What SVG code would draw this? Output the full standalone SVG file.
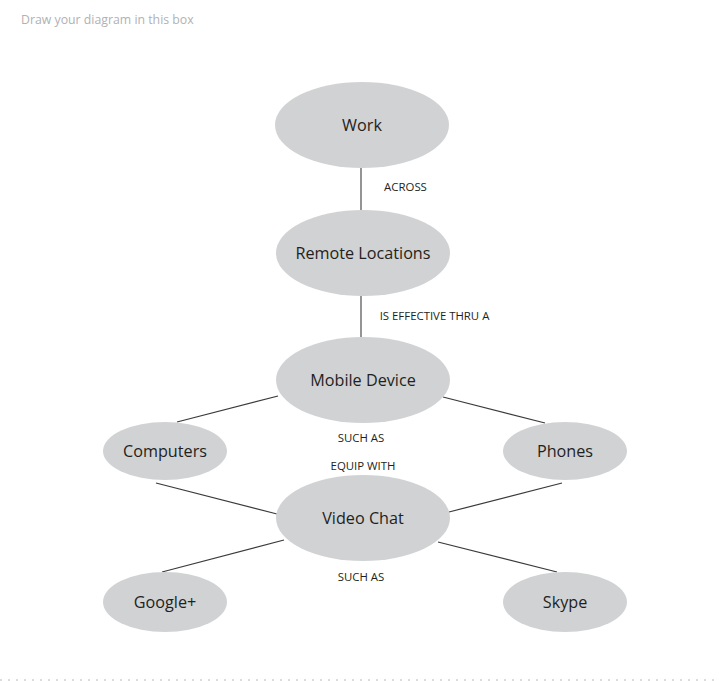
<svg xmlns="http://www.w3.org/2000/svg" width="719" height="681" viewBox="0 0 719 681">
<style>
.node ellipse{fill:#d1d2d4;stroke:none}
.node text{font-family:"Open Sans","Noto Sans",sans-serif;font-size:16.2px;fill:#231f20;text-anchor:middle}
.lbl{font-family:"Open Sans","Noto Sans",sans-serif;font-size:11.4px;fill:#231f20;text-anchor:middle}
.v{stroke:#7a7a7a;stroke-width:1.6}
.d{stroke:#3a3a3a;stroke-width:1.2}
</style>
<rect width="719" height="681" fill="#ffffff"/>
<text x="21" y="24" font-family="'Open Sans','Noto Sans',sans-serif" font-size="12.3" fill="#b1b1b5">Draw your diagram in this box</text>
<line x1="0" y1="680" x2="719" y2="680" stroke="#b8b8bc" stroke-width="1" stroke-dasharray="2 6"/>
<g id="connectors">
<line class="v" x1="361" y1="168" x2="361" y2="210"/>
<line class="v" x1="361" y1="296" x2="361" y2="337"/>
<line class="d" x1="278" y1="396" x2="177" y2="422"/>
<line class="d" x1="443" y1="397" x2="545" y2="423"/>
<line class="d" x1="156" y1="483" x2="277" y2="514"/>
<line class="d" x1="562" y1="483" x2="449" y2="512"/>
<line class="d" x1="284" y1="540" x2="162" y2="572"/>
<line class="d" x1="438" y1="542" x2="557" y2="572"/>
<text class="lbl" x="405.5" y="191">ACROSS</text>
<text class="lbl" x="434.5" y="320">IS EFFECTIVE THRU A</text>
<text class="lbl" x="361" y="442">SUCH AS</text>
<text class="lbl" x="363" y="470">EQUIP WITH</text>
<text class="lbl" x="361" y="581">SUCH AS</text>
</g>
<g id="work" class="node"><ellipse cx="362" cy="125" rx="87" ry="43"/><text x="362" y="130.5">Work</text></g>
<g id="remote" class="node"><ellipse cx="363" cy="253" rx="87" ry="43"/><text x="363" y="258.5">Remote Locations</text></g>
<g id="mobile" class="node"><ellipse cx="363" cy="380" rx="87" ry="43"/><text x="363" y="385.5">Mobile Device</text></g>
<g id="computers" class="node"><ellipse cx="165" cy="451" rx="62" ry="29"/><text x="165" y="456.5">Computers</text></g>
<g id="phones" class="node"><ellipse cx="565" cy="451" rx="62" ry="29"/><text x="565" y="456.5">Phones</text></g>
<g id="video" class="node"><ellipse cx="363" cy="518" rx="87" ry="43"/><text x="363" y="523.5">Video Chat</text></g>
<g id="google" class="node"><ellipse cx="165" cy="602" rx="62" ry="30"/><text x="165" y="607.5">Google+</text></g>
<g id="skype" class="node"><ellipse cx="565" cy="602" rx="62" ry="30"/><text x="565" y="607.5">Skype</text></g>
</svg>
